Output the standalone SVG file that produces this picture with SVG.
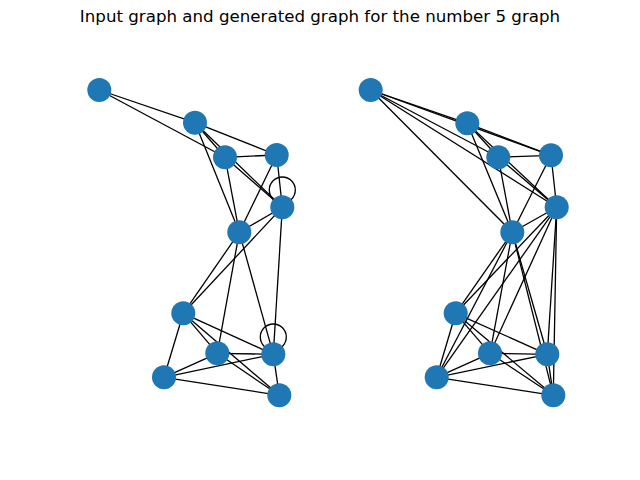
<svg xmlns="http://www.w3.org/2000/svg" width="640" height="480" viewBox="0 0 640 480">
<style>
.t{font-family:"DejaVu Sans",sans-serif;font-size:16.67px;fill:#000}
.e line,.e path,.e circle{stroke:#000;stroke-width:1.3;fill:none}
.n circle{fill:#1f77b4}
</style>
<rect width="640" height="480" fill="#fff"/>
<text class="t" x="320" y="22" text-anchor="middle">Input graph and generated graph for the number 5 graph</text>
<g id="edges-left" class="e">
<line x1="99.3" y1="90" x2="195" y2="122.7"/>
<line x1="99.3" y1="90" x2="225" y2="157.3"/>
<line x1="195" y1="122.7" x2="276.7" y2="155"/>
<line x1="195" y1="122.7" x2="225" y2="157.3"/>
<line x1="195" y1="122.7" x2="282.3" y2="207.3"/>
<line x1="195" y1="122.7" x2="239.3" y2="232.3"/>
<line x1="225" y1="157.3" x2="276.7" y2="155"/>
<line x1="225" y1="157.3" x2="282.3" y2="207.3"/>
<line x1="225" y1="157.3" x2="239.3" y2="232.3"/>
<line x1="276.7" y1="155" x2="282.3" y2="207.3"/>
<line x1="276.7" y1="155" x2="239.3" y2="232.3"/>
<line x1="282.3" y1="207.3" x2="239.3" y2="232.3"/>
<line x1="282.3" y1="207.3" x2="183.3" y2="313.3"/>
<line x1="282.3" y1="207.3" x2="273.3" y2="354.3"/>
<line x1="239.3" y1="232.3" x2="183.3" y2="313.3"/>
<line x1="239.3" y1="232.3" x2="217.3" y2="353.3"/>
<line x1="239.3" y1="232.3" x2="273.3" y2="354.3"/>
<line x1="183.3" y1="313.3" x2="217.3" y2="353.3"/>
<line x1="183.3" y1="313.3" x2="273.3" y2="354.3"/>
<line x1="183.3" y1="313.3" x2="279.3" y2="395.3"/>
<line x1="183.3" y1="313.3" x2="164" y2="377.3"/>
<line x1="217.3" y1="353.3" x2="273.3" y2="354.3"/>
<line x1="217.3" y1="353.3" x2="279.3" y2="395.3"/>
<line x1="217.3" y1="353.3" x2="164" y2="377.3"/>
<line x1="273.3" y1="354.3" x2="164" y2="377.3"/>
<line x1="273.3" y1="354.3" x2="279.3" y2="395.3"/>
<line x1="164" y1="377.3" x2="279.3" y2="395.3"/>
<circle cx="282.3" cy="190" r="13"/>
<circle cx="273.3" cy="337" r="13"/>
</g>
<g id="edges-right" class="e">
<line x1="370.7" y1="90" x2="467.3" y2="123.3"/>
<line x1="370.7" y1="90" x2="551" y2="155.3"/>
<line x1="370.7" y1="90" x2="498.3" y2="157.3"/>
<line x1="370.7" y1="90" x2="556.7" y2="207.3"/>
<line x1="370.7" y1="90" x2="512.3" y2="232.3"/>
<line x1="467.3" y1="123.3" x2="551" y2="155.3"/>
<line x1="467.3" y1="123.3" x2="498.3" y2="157.3"/>
<line x1="467.3" y1="123.3" x2="556.7" y2="207.3"/>
<line x1="467.3" y1="123.3" x2="512.3" y2="232.3"/>
<line x1="498.3" y1="157.3" x2="551" y2="155.3"/>
<line x1="498.3" y1="157.3" x2="556.7" y2="207.3"/>
<line x1="498.3" y1="157.3" x2="512.3" y2="232.3"/>
<line x1="551" y1="155.3" x2="556.7" y2="207.3"/>
<line x1="551" y1="155.3" x2="512.3" y2="232.3"/>
<line x1="556.7" y1="207.3" x2="512.3" y2="232.3"/>
<line x1="556.7" y1="207.3" x2="455.7" y2="313.3"/>
<line x1="556.7" y1="207.3" x2="436.7" y2="377.3"/>
<line x1="556.7" y1="207.3" x2="490" y2="353.3"/>
<line x1="556.7" y1="207.3" x2="547.3" y2="354.3"/>
<line x1="556.7" y1="207.3" x2="553.3" y2="395.3"/>
<line x1="512.3" y1="232.3" x2="455.7" y2="313.3"/>
<line x1="512.3" y1="232.3" x2="436.7" y2="377.3"/>
<line x1="512.3" y1="232.3" x2="490" y2="353.3"/>
<line x1="512.3" y1="232.3" x2="547.3" y2="354.3"/>
<line x1="512.3" y1="232.3" x2="553.3" y2="395.3"/>
<line x1="455.7" y1="313.3" x2="490" y2="353.3"/>
<line x1="455.7" y1="313.3" x2="547.3" y2="354.3"/>
<line x1="455.7" y1="313.3" x2="553.3" y2="395.3"/>
<line x1="455.7" y1="313.3" x2="436.7" y2="377.3"/>
<line x1="490" y1="353.3" x2="547.3" y2="354.3"/>
<line x1="490" y1="353.3" x2="553.3" y2="395.3"/>
<line x1="490" y1="353.3" x2="436.7" y2="377.3"/>
<line x1="547.3" y1="354.3" x2="436.7" y2="377.3"/>
<line x1="547.3" y1="354.3" x2="553.3" y2="395.3"/>
<line x1="436.7" y1="377.3" x2="553.3" y2="395.3"/>
</g>
<g id="nL0" class="n"><circle cx="99.3" cy="90" r="12"/></g>
<g id="nL1" class="n"><circle cx="195" cy="122.7" r="12"/></g>
<g id="nL2" class="n"><circle cx="225" cy="157.3" r="12"/></g>
<g id="nL3" class="n"><circle cx="276.7" cy="155" r="12"/></g>
<g id="nL4" class="n"><circle cx="282.3" cy="207.3" r="12"/></g>
<g id="nL5" class="n"><circle cx="239.3" cy="232.3" r="12"/></g>
<g id="nL6" class="n"><circle cx="183.3" cy="313.3" r="12"/></g>
<g id="nL7" class="n"><circle cx="217.3" cy="353.3" r="12"/></g>
<g id="nL8" class="n"><circle cx="273.3" cy="354.3" r="12"/></g>
<g id="nL9" class="n"><circle cx="164" cy="377.3" r="12"/></g>
<g id="nL10" class="n"><circle cx="279.3" cy="395.3" r="12"/></g>
<g id="nR0" class="n"><circle cx="370.7" cy="90" r="12"/></g>
<g id="nR1" class="n"><circle cx="467.3" cy="123.3" r="12"/></g>
<g id="nR2" class="n"><circle cx="498.3" cy="157.3" r="12"/></g>
<g id="nR3" class="n"><circle cx="551" cy="155.3" r="12"/></g>
<g id="nR4" class="n"><circle cx="556.7" cy="207.3" r="12"/></g>
<g id="nR5" class="n"><circle cx="512.3" cy="232.3" r="12"/></g>
<g id="nR6" class="n"><circle cx="455.7" cy="313.3" r="12"/></g>
<g id="nR7" class="n"><circle cx="490" cy="353.3" r="12"/></g>
<g id="nR8" class="n"><circle cx="547.3" cy="354.3" r="12"/></g>
<g id="nR9" class="n"><circle cx="436.7" cy="377.3" r="12"/></g>
<g id="nR10" class="n"><circle cx="553.3" cy="395.3" r="12"/></g>
</svg>
